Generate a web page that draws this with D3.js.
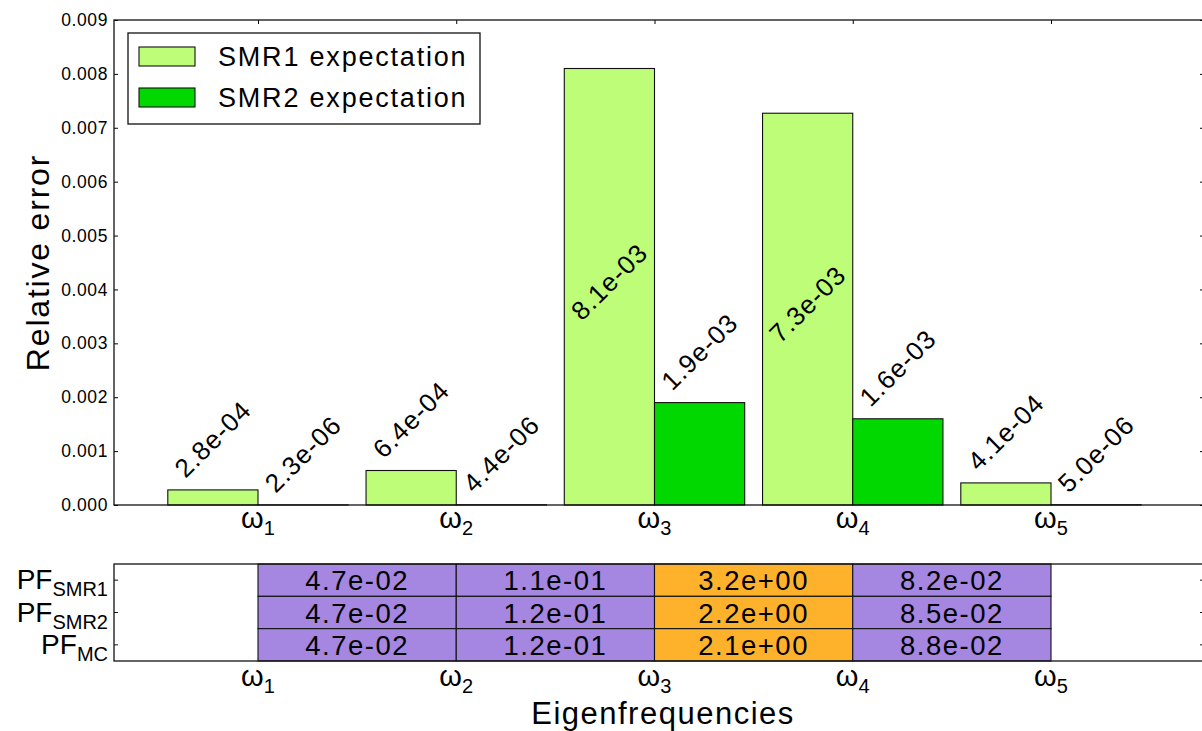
<!DOCTYPE html>
<html>
<head>
<meta charset="utf-8">
<script src="https://cdn.jsdelivr.net/npm/d3@7"></script>
<style>
  body { margin: 0; background: #fff; }
  svg { display: block; font-family: "Liberation Sans", Arial, sans-serif; }
</style>
</head>
<body>
<div id="chart"></div>
<script>
// eigenfrequency subscripts
const freqs = ['1', '2', '3', '4', '5'];
// relative error of expectations
const smr1 = [2.8e-4, 6.4e-4, 8.1e-3, 7.27e-3, 4.1e-4];
const smr2 = [2.3e-6, 4.4e-6, 1.9e-3, 1.6e-3, 5.0e-6];
const seriesNames = ['SMR1 expectation', 'SMR2 expectation'];
const yTicks = [0, 0.001, 0.002, 0.003, 0.004, 0.005, 0.006, 0.007, 0.008, 0.009];
// PF table rows (between consecutive eigenfrequencies)
const pfRows = ['SMR1', 'SMR2', 'MC'];
const pfSmr1 = [4.7e-2, 1.1e-1, 3.2, 8.2e-2];
const pfSmr2 = [4.7e-2, 1.2e-1, 2.2, 8.5e-2];
const pfMc = [4.7e-2, 1.2e-1, 2.1, 8.8e-2];

const W = 1202, H = 731;
const light = '#befd78', dark = '#00d800';
const purple = '#a586e0', orange = '#feb22b';
const L = 114, R = 1204;          // panel edges
const top1 = 20, bot1 = 505;      // bar panel
const top2 = 564, bot2 = 661;     // table panel

// exponent always 2 digits like 2.8e-04
function sci(v){
	const s = d3.format('.1e')(v);
	return s.replace(/e([+-])(\d)$/, 'e$10$2');
}

const svg = d3.select('#chart').append('svg')
	.attr('width', W)
	.attr('height', H);

const x = d3.scaleLinear()
	.domain([0, freqs.length - 1])
	.range([258, 1051]);
const y = d3.scaleLinear()
	.domain([0, 0.009])
	.range([bot1, top1]);
const bw = (x(1) - x(0)) * 0.455;

// ---------- bar panel ----------
const g1 = svg.append('g');

g1.append('g')
	.attr('transform', `translate(${L},0)`)
	.call(d3.axisLeft(y).tickValues(yTicks).tickSize(-4).tickPadding(6).tickFormat(d3.format('.3f')))
	.call(a => a.select('.domain').remove())
	.call(a => a.selectAll('text').attr('font-size', 17.5).attr('letter-spacing', '0.6px').attr('fill', '#000'));
g1.append('g')
	.attr('transform', `translate(${R},0)`)
	.call(d3.axisRight(y).tickValues(yTicks).tickSize(-4).tickFormat(''))
	.call(a => a.select('.domain').remove());
g1.append('g')
	.attr('transform', `translate(0,${top1})`)
	.call(d3.axisTop(x).tickValues(d3.range(freqs.length)).tickSize(-4).tickFormat(''))
	.call(a => a.select('.domain').remove());

const series = [smr1, smr2];
series.forEach((vals, s) => {
	g1.selectAll(null)
		.data(vals)
		.join('rect')
		.attr('x', (d, i) => x(i) - bw + s * bw)
		.attr('y', d => y(d))
		.attr('width', bw)
		.attr('height', d => y(0) - y(d))
		.attr('fill', s === 0 ? light : dark)
		.attr('stroke', '#111')
		.attr('stroke-width', 1.1);
});

// value labels, rotated 45deg
const labSize = 26;
series.forEach((vals, s) => {
	g1.selectAll(null)
		.data(vals)
		.join('text')
		.text(d => sci(d))
		.attr('font-size', labSize)
		.attr('letter-spacing', '1px')
		.attr('text-anchor', 'middle')
		.attr('dominant-baseline', 'central')
		.each(function(d, i){
			const len = this.getComputedTextLength();
			const cx = x(i) - bw / 2 + s * bw;
			let cy;
			if(d > 0.6 * y.domain()[1]){
				cy = y(d / 2) - 5;
			}else{
				cy = y(d) - 8 - (len + labSize) / (2 * Math.SQRT2);
			}
			d3.select(this).attr('transform', `translate(${cx},${cy}) rotate(-45)`);
		});
});

g1.append('rect')
	.attr('x', L).attr('y', top1)
	.attr('width', R - L).attr('height', bot1 - top1)
	.attr('fill', 'none').attr('stroke', '#111').attr('stroke-width', 1.3);

// omega tick labels
function omegaLabels(g, yBase){
	const t = g.selectAll(null)
		.data(freqs)
		.join('text')
		.attr('x', (d, i) => x(i))
		.attr('y', yBase)
		.attr('text-anchor', 'middle')
		.attr('font-size', 29);
	t.append('tspan').text('ω');
	t.append('tspan').text(d => d).attr('font-size', 20).attr('dy', 7);
}
omegaLabels(g1, 528);

g1.append('text')
	.attr('transform', `translate(49,${(top1 + bot1) / 2}) rotate(-90)`)
	.attr('text-anchor', 'middle')
	.attr('font-size', 32)
	.attr('letter-spacing', '1.8px')
	.text('Relative error');

// legend
const leg = g1.append('g');
leg.append('rect')
	.attr('x', 128).attr('y', 33)
	.attr('width', 352).attr('height', 91)
	.attr('fill', '#fff').attr('stroke', '#111').attr('stroke-width', 1.3);
seriesNames.forEach((name, i) => {
	leg.append('rect')
		.attr('x', 139).attr('y', 47 + i * 41)
		.attr('width', 56).attr('height', 19)
		.attr('fill', i === 0 ? light : dark)
		.attr('stroke', '#111').attr('stroke-width', 1.1);
	leg.append('text')
		.attr('x', 218).attr('y', 66 + i * 41)
		.attr('font-size', 27)
		.attr('letter-spacing', '1.8px')
		.text(name);
});

// ---------- PF table panel ----------
const g2 = svg.append('g');
const rowY = d3.scaleBand().domain(pfRows).range([top2, bot2]);
const pfData = [pfSmr1, pfSmr2, pfMc];

pfData.forEach((vals, r) => {
	const row = g2.selectAll(null)
		.data(vals)
		.join('g');
	row.append('rect')
		.attr('x', (d, i) => x(i))
		.attr('y', rowY(pfRows[r]))
		.attr('width', (d, i) => x(i + 1) - x(i))
		.attr('height', rowY.bandwidth())
		.attr('fill', d => d > 1 ? orange : purple)
		.attr('stroke', '#111').attr('stroke-width', 1.1);
	row.append('text')
		.attr('x', (d, i) => (x(i) + x(i + 1)) / 2)
		.attr('y', rowY(pfRows[r]) + rowY.bandwidth() / 2)
		.attr('dy', '0.37em')
		.attr('text-anchor', 'middle')
		.attr('font-size', 27.5)
		.attr('letter-spacing', '1.5px')
		.text(d => sci(d));
});

const rowCenters = pfRows.map(p => rowY(p) + rowY.bandwidth() / 2);
[L, R].forEach((px, k) => {
	g2.selectAll(null)
		.data(rowCenters)
		.join('line')
		.attr('x1', px).attr('x2', k === 0 ? px + 4 : px - 4)
		.attr('y1', d => d).attr('y2', d => d)
		.attr('stroke', '#111');
});

const pfText = g2.selectAll(null)
	.data(pfRows)
	.join('text')
	.attr('x', 108)
	.attr('y', d => rowY(d) + rowY.bandwidth() / 2 + 9)
	.attr('text-anchor', 'end')
	.attr('font-size', 28);
pfText.append('tspan').text('PF');
pfText.append('tspan').text(d => d).attr('font-size', 20).attr('dy', 7);

g2.append('rect')
	.attr('x', L).attr('y', top2)
	.attr('width', R - L).attr('height', bot2 - top2)
	.attr('fill', 'none').attr('stroke', '#111').attr('stroke-width', 1.3);

omegaLabels(g2, 686);

g2.append('text')
	.attr('x', (L + 1202) / 2 + 5)
	.attr('y', 724)
	.attr('text-anchor', 'middle')
	.attr('font-size', 31)
	.attr('letter-spacing', '1.5px')
	.text('Eigenfrequencies');
</script>
</body>
</html>
